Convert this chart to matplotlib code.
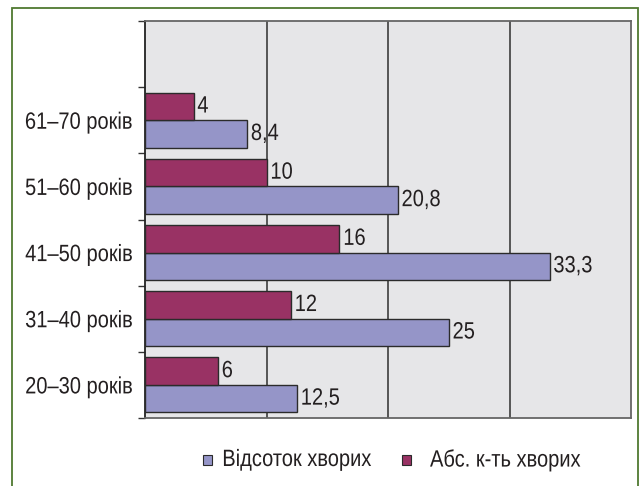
import matplotlib
matplotlib.use("Agg")
import matplotlib.pyplot as plt
import numpy as np
from matplotlib.patches import Rectangle
from matplotlib.patheffects import AbstractPathEffect
from matplotlib.transforms import Affine2D

# data, bottom to top
groups = ["20–30 років", "31–40 років", "41–50 років", "51–60 років", "61–70 років"]
percent = [12.5, 25, 33.3, 20.8, 8.4]
absolute = [6, 12, 16, 10, 4]
percent_labels = ["12,5", "25", "33,3", "20,8", "8,4"]
absolute_labels = ["6", "12", "16", "10", "4"]
legend_names = ["Відсоток хворих", "Абс. к-ть хворих"]

blue = "#9595C8"
red = "#993264"
edge = "#2b2b2b"
txt = "#231F20"


class Narrow(AbstractPathEffect):
    """squeeze text horizontally (no narrow font installed)"""

    def __init__(self, sx=0.85, anchor="left"):
        super().__init__()
        self.sx = sx
        self.anchor = anchor

    def draw_path(self, renderer, gc, tpath, affine, rgbFace=None):
        ext = tpath.get_extents()
        x0 = ext.x1 if self.anchor == "right" else ext.x0
        t = Affine2D().translate(-x0, 0).scale(self.sx, 1).translate(x0, 0) + affine
        renderer.draw_path(gc, tpath, t, rgbFace)


plt.rcParams["font.family"] = ["Liberation Sans", "DejaVu Sans"]
FS = 17

fig = plt.figure(figsize=(6.4, 4.86), dpi=100)
fig.patch.set_facecolor("white")

# green frame around the whole figure
fig.add_artist(Rectangle((12 / 640, -0.1), 626 / 640, 1.1 - 8 / 486,
                         transform=fig.transFigure, fill=False,
                         edgecolor="#4f7a30", linewidth=1.3))

ax = fig.add_axes([145 / 640, 1 - 418 / 486, 486 / 640, 397 / 486])
ax.set_facecolor("#E6E6E8")

y = np.arange(len(groups))
h = 0.415
ax.barh(y - h / 2, percent, height=h, color=blue, edgecolor=edge, linewidth=1.0, zorder=3)
ax.barh(y + h / 2, absolute, height=h, color=red, edgecolor=edge, linewidth=1.0, zorder=3)

for yi, v, s in zip(y, percent, percent_labels):
    ax.text(v + 0.3, yi - h / 2, s, va="center", ha="left", fontsize=FS, color=txt,
            path_effects=[Narrow()])
for yi, v, s in zip(y, absolute, absolute_labels):
    ax.text(v + 0.3, yi + h / 2, s, va="center", ha="left", fontsize=FS, color=txt,
            path_effects=[Narrow()])

ax.set_xlim(0, 40)
ax.set_ylim(-0.5, 5.5)
ax.set_xticks([10, 20, 30])
ax.xaxis.grid(True, color="#4a4a4a", linewidth=1.3, zorder=1)
ax.tick_params(axis="x", length=0, labelbottom=False)

ax.set_yticks(y)
ax.set_yticklabels(groups, fontsize=FS, color=txt)
for lab in ax.get_yticklabels():
    lab.set_path_effects([Narrow(anchor="right")])
ax.tick_params(axis="y", which="major", length=0, pad=8.5)
ax.set_yticks(np.arange(-0.5, 6, 1), minor=True)
ax.tick_params(axis="y", which="minor", length=5, width=1, color="#333333")

for side in ["top", "right", "bottom"]:
    ax.spines[side].set_color("#666666")
    ax.spines[side].set_linewidth(1.3)
ax.spines["left"].set_color("#222222")
ax.spines["left"].set_linewidth(1.3)

# legend, laid out by hand because the text is squeezed
ly = 1 - 460 / 486
for x_box, x_txt, c, name in zip([203, 402], [222, 430], [blue, red], legend_names):
    fig.add_artist(Rectangle((x_box / 640, ly - 5 / 486), 9 / 640, 10 / 486,
                             transform=fig.transFigure, facecolor=c,
                             edgecolor=edge, linewidth=0.8))
    fig.text(x_txt / 640, ly, name, va="center", ha="left", fontsize=FS,
             color=txt, path_effects=[Narrow()])

fig.savefig("out.png", dpi=100)
